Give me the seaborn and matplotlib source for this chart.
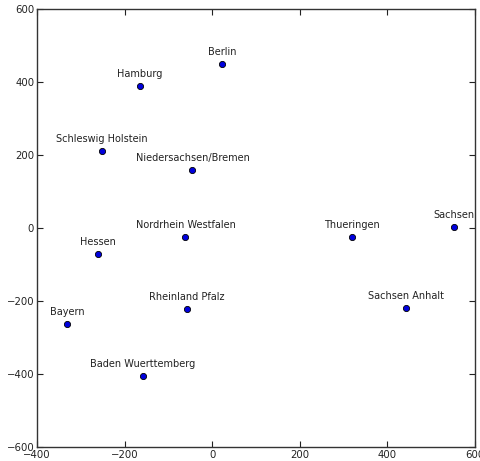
import pandas as pd
import matplotlib.pyplot as plt
import seaborn as sns

states = ['Berlin', 'Hamburg', 'Schleswig Holstein', 'Niedersachsen/Bremen',
          'Nordrhein Westfalen', 'Thueringen', 'Sachsen', 'Hessen',
          'Rheinland Pfalz', 'Bayern', 'Baden Wuerttemberg', 'Sachsen Anhalt']
x_vals = [23, -165, -251, -45, -61, 319, 552, -260, -58, -331, -159, 443]
y_vals = [450, 389, 211, 160, -25, -25, 4, -72, -222, -264, -406, -220]

df = pd.DataFrame({'state': states, 'x': x_vals, 'y': y_vals})

sns.set_style('ticks')
plt.rcParams['font.family'] = ['DejaVu Sans']
plt.rcParams['xtick.direction'] = 'in'
plt.rcParams['ytick.direction'] = 'in'

fig = plt.figure(figsize=(4.8, 4.61), dpi=100)
ax = fig.add_axes([37 / 480, 14 / 461, 438 / 480, 438 / 461])

sns.scatterplot(data=df, x='x', y='y', color='#0000dd', edgecolor='black',
                linewidth=0.6, s=20, ax=ax, zorder=3)

for _, row in df.iterrows():
    ax.annotate(row['state'], (row['x'], row['y']), xytext=(0, 5),
                textcoords='offset points', ha='center', va='bottom',
                fontsize=7, color='#222222')

ax.set_xlim(-400, 600)
ax.set_ylim(-600, 600)
ax.set_xticks(range(-400, 601, 200))
ax.set_yticks(range(-600, 601, 200))
ax.tick_params(top=True, right=True, length=4, width=0.8, labelsize=7.3,
               colors='#222222', pad=2)
for sp in ax.spines.values():
    sp.set_color('#333333')
    sp.set_linewidth(1)
ax.set(xlabel='', ylabel='')

fig.savefig('out.png', dpi=100)
